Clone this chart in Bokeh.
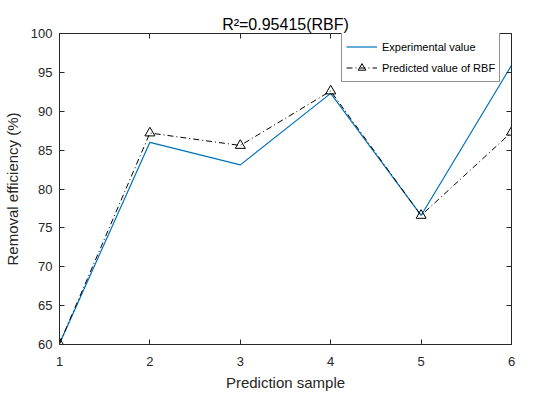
from bokeh.plotting import figure
from bokeh.models import Range1d, LinearAxis, FixedTicker, Legend, LegendItem, Title
from bokeh.embed import file_html
from bokeh.resources import INLINE

samples = [1, 2, 3, 4, 5, 6]
experimental = [60.1, 86.0, 83.1, 92.3, 76.6, 95.9]
predicted_rbf = [60.1, 87.2, 85.6, 92.6, 76.6, 87.3]
x_ticks = [1, 2, 3, 4, 5, 6]
y_ticks = [60, 65, 70, 75, 80, 85, 90, 95, 100]

FONT = "Liberation Sans"
DARK = "#262626"

p = figure(width=550, height=399, output_backend="svg", toolbar_location=None,
           x_range=Range1d(1, 6), y_range=Range1d(60, 100),
           min_border_left=59, min_border_right=39, min_border_top=33, min_border_bottom=55)
p.outline_line_color = None
p.xgrid.visible = False
p.ygrid.visible = False
p.background_fill_color = "white"
p.border_fill_color = "white"

def style_axis(ax, show_labels):
    ax.axis_line_color = DARK
    ax.axis_line_width = 1
    ax.major_tick_line_color = DARK
    ax.major_tick_in = 5
    ax.major_tick_out = 0
    ax.minor_tick_line_color = None
    ax.major_label_text_font = FONT
    ax.major_label_text_color = DARK
    if show_labels:
        ax.major_label_text_font_size = "13px"
        ax.major_label_standoff = 12
    else:
        ax.major_label_text_font_size = "0px"
        ax.major_label_standoff = 0
    ax.axis_label_text_font = FONT
    ax.axis_label_text_font_style = "normal"
    ax.axis_label_text_font_size = "15px"
    ax.axis_label_text_color = DARK

xb = p.xaxis[0]
yl = p.yaxis[0]
xb.ticker = FixedTicker(ticks=x_ticks)
yl.ticker = FixedTicker(ticks=y_ticks)
style_axis(xb, True)
style_axis(yl, True)
yl.major_label_standoff = 7
xb.axis_label = "Prediction sample"
yl.axis_label = "Removal efficiency (%)"
xb.axis_label_standoff = 5
yl.axis_label_standoff = 7

xt = LinearAxis(ticker=FixedTicker(ticks=x_ticks))
yr = LinearAxis(ticker=FixedTicker(ticks=y_ticks))
style_axis(xt, False)
style_axis(yr, False)
p.add_layout(xt, "above")
p.add_layout(yr, "right")

title = Title(text="R\u00b2=0.95415(RBF)", text_font=FONT, text_font_size="16px",
              text_font_style="normal", text_color="black", align="center",
              offset=0, standoff=2)
p.add_layout(title, "above")

l1 = p.line(samples, experimental, line_color="#0072BD", line_width=1.2)
l2 = p.line(samples, predicted_rbf, line_color="black", line_width=1, line_dash="6 3 1 3")
s2 = p.scatter(samples, predicted_rbf, marker="triangle", size=10,
               fill_color=None, line_color="black", line_width=1)

legend = Legend(items=[LegendItem(label="Experimental value", renderers=[l1]),
                       LegendItem(label="Predicted value of RBF", renderers=[l2, s2])],
                location=(282, 262))
legend.label_text_font = FONT
legend.label_text_font_size = "11px"
legend.label_text_color = "black"
legend.border_line_color = DARK
legend.border_line_width = 1
legend.glyph_width = 31
legend.glyph_height = 19
legend.label_standoff = 5
legend.label_height = 19
legend.spacing = 2
legend.padding = 4
legend.margin = 0
legend.background_fill_alpha = 1
p.add_layout(legend, "center")

open("out.html", "w").write(file_html(p, INLINE))
